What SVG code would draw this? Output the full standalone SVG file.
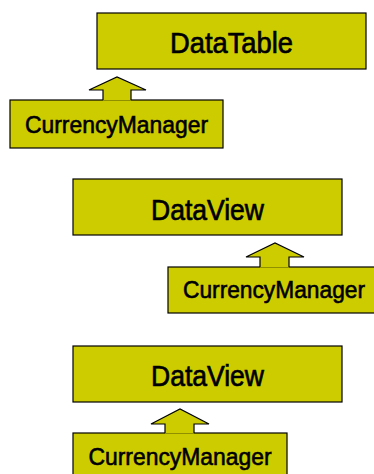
<svg xmlns="http://www.w3.org/2000/svg" width="374" height="474" viewBox="0 0 374 474">
<style>
.box{fill:#CCCC00;stroke:#000;stroke-width:1.2}
.arr{fill:#CCCC00;stroke:none}
.arrl{fill:none;stroke:#000;stroke-width:1.2;stroke-linejoin:miter}
.big{font-family:"Liberation Sans",Arial,sans-serif;font-size:30px;fill:#000;stroke:#000;stroke-width:0.7;text-anchor:middle}
.small{font-family:"Liberation Sans",Arial,sans-serif;font-size:24.5px;fill:#000;stroke:#000;stroke-width:0.6;text-anchor:middle}
</style>
<rect width="374" height="474" fill="#fff"/>
<g id="dataTable">
<rect class="box" x="97" y="13" width="269" height="56"/>
<text class="big" x="231.5" y="53" textLength="123" lengthAdjust="spacingAndGlyphs">DataTable</text>
</g>
<g id="currencyManager1">
<rect class="box" x="10" y="100" width="213" height="48"/>
<text class="small" x="116.5" y="133" textLength="183" lengthAdjust="spacingAndGlyphs">CurrencyManager</text>
</g>
<g id="dataView1">
<rect class="box" x="73" y="179" width="269" height="56"/>
<text class="big" x="207.5" y="220" textLength="113" lengthAdjust="spacingAndGlyphs">DataView</text>
</g>
<g id="currencyManager2">
<rect class="box" x="168" y="267" width="213" height="46"/>
<text class="small" x="274" y="298" textLength="182" lengthAdjust="spacingAndGlyphs">CurrencyManager</text>
</g>
<g id="dataView2">
<rect class="box" x="73" y="346" width="269" height="56"/>
<text class="big" x="207.5" y="386" textLength="113" lengthAdjust="spacingAndGlyphs">DataView</text>
</g>
<g id="currencyManager3">
<rect class="box" x="73" y="433" width="214" height="48"/>
<text class="small" x="180" y="465" textLength="183" lengthAdjust="spacingAndGlyphs">CurrencyManager</text>
</g>
<g id="connectors">
<polygon class="arr" points="117,77 146,90 131,90 131,100.6 103,100.6 103,90 89,90"/>
<polyline class="arrl" points="103,100 103,90 89,90 117,77 146,90 131,90 131,100"/>
<polygon class="arr" points="275,243 304,257 289,257 289,267.6 260,267.6 260,257 246,257"/>
<polyline class="arrl" points="260,267 260,257 246,257 275,243 304,257 289,257 289,267"/>
<polygon class="arr" points="180,409 209,424 194,424 194,433.6 165,433.6 165,424 151,424"/>
<polyline class="arrl" points="165,433 165,424 151,424 180,409 209,424 194,424 194,433"/>
</g>
</svg>
